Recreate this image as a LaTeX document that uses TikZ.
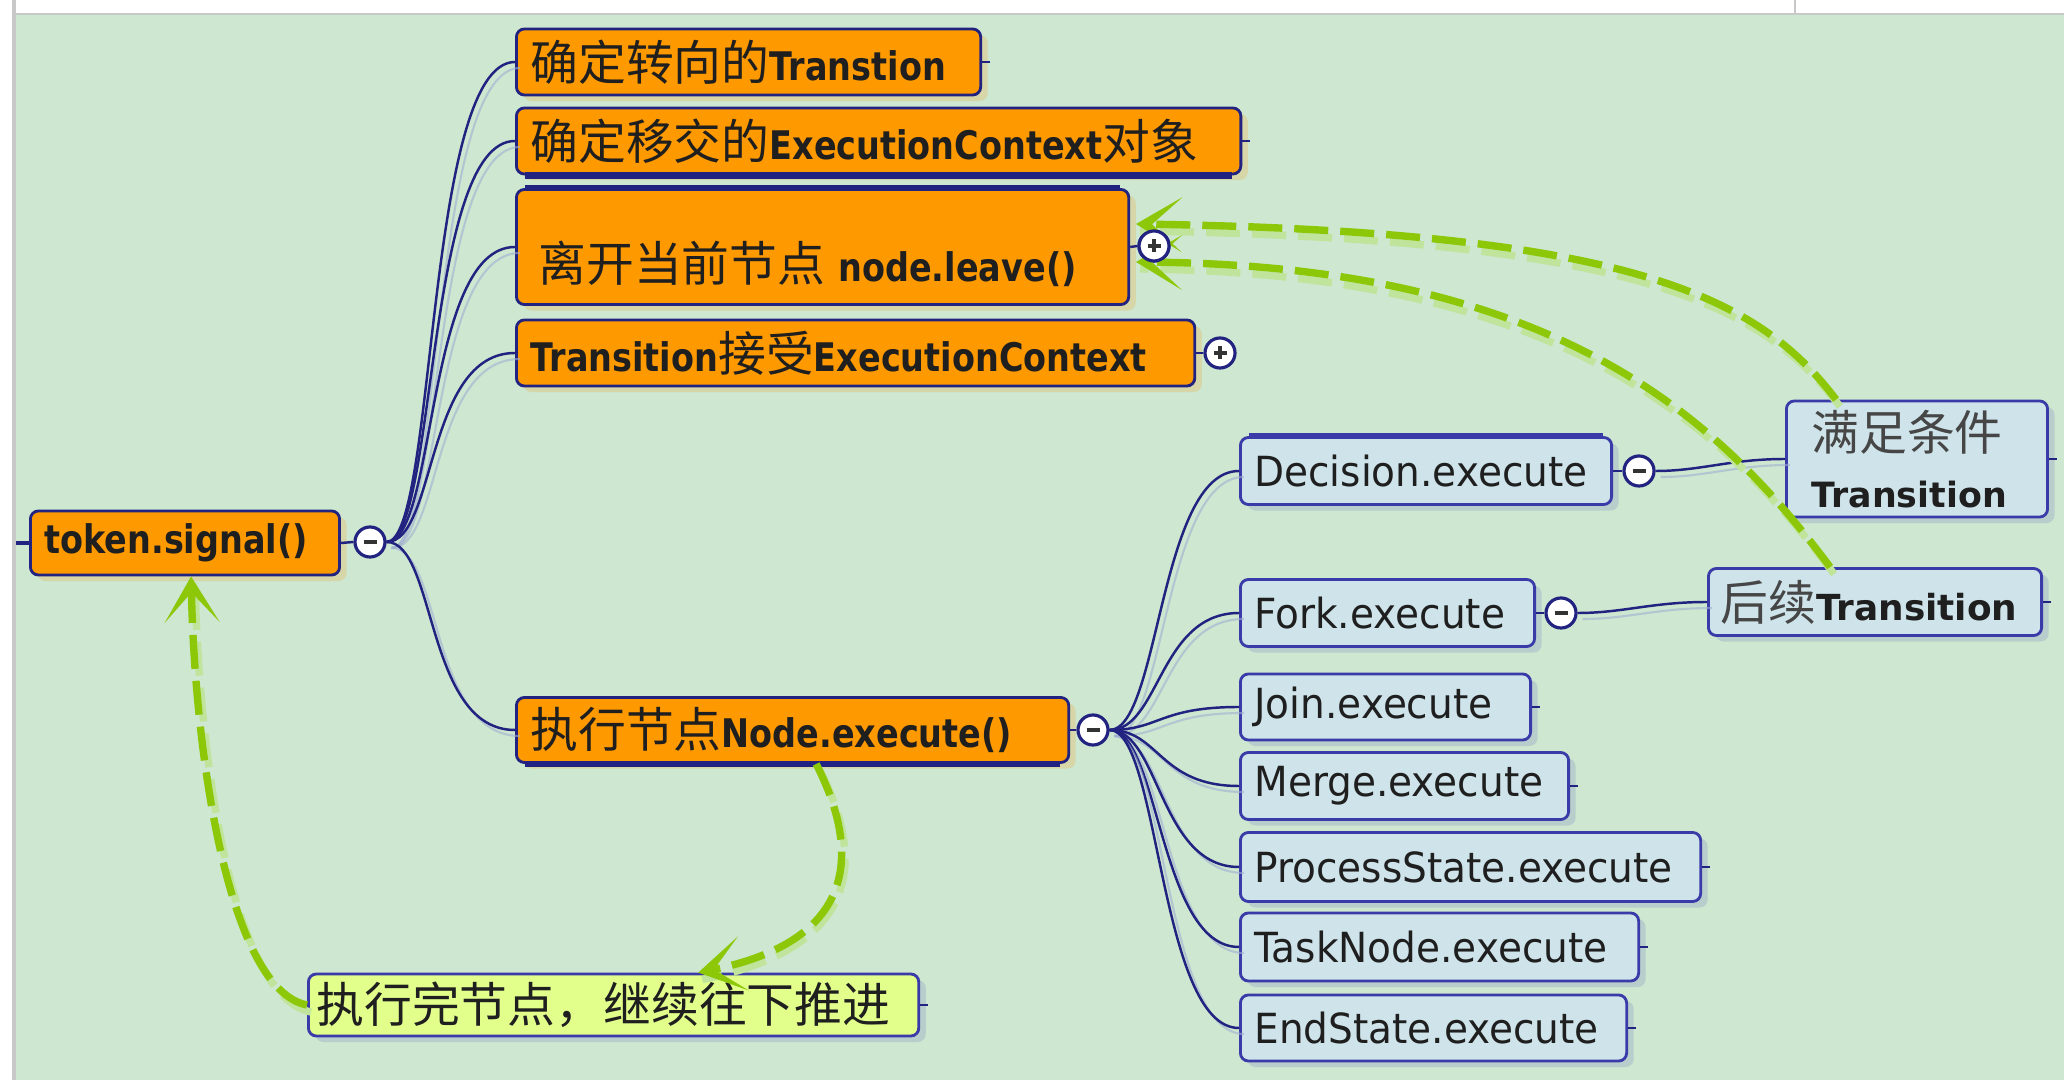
\documentclass[tikz,border=0pt]{standalone}
\usepackage{fontspec}
\setmainfont{DejaVu Sans}
\newfontfamily\condsans{DejaVu Sans}[FakeStretch=0.85]
\newfontfamily\narrowsans{DejaVu Sans}[FakeStretch=0.94]
\newfontfamily\cjk{Noto Sans CJK SC}
\usetikzlibrary{arrows.meta,shadows}

\definecolor{bggreen}{RGB}{205,231,208}
\definecolor{framegray}{RGB}{200,200,200}
\definecolor{navy}{RGB}{34,34,128}
\definecolor{orangefill}{RGB}{255,153,0}
\definecolor{orangeshadow}{RGB}{214,214,168}
\definecolor{bluefill}{RGB}{206,228,234}
\definecolor{blueline}{RGB}{58,58,168}
\definecolor{blueshadow}{RGB}{184,206,204}
\definecolor{yellowfill}{RGB}{226,255,140}
\definecolor{linkgreen}{RGB}{140,200,8}
\definecolor{linkgreenlight}{RGB}{192,228,156}
\definecolor{wireshadow}{RGB}{160,176,210}
\definecolor{zhgray}{RGB}{70,70,70}

% Chinese glyphs are set larger than the Latin text
\newcommand\zh[1]{{\cjk\mdseries\fontsize{13.6pt}{16pt}\selectfont #1}}
\newcommand\zhg[1]{{\cjk\mdseries\color{zhgray}\fontsize{13.6pt}{16pt}\selectfont #1}}

\begin{document}
\begin{tikzpicture}[x=0.01cm,y=-0.01cm,
  topic/.style={rounded corners=0.08cm, line width=0.8pt, anchor=west,
    align=left, inner xsep=0.14cm, inner ysep=0pt, text=black!88},
  orangebox/.style={topic, draw=navy, fill=orangefill,
    font=\condsans\bfseries\fontsize{11.2pt}{13pt}\selectfont,
    drop shadow={shadow xshift=0.07cm, shadow yshift=-0.06cm, fill=orangeshadow, opacity=1}},
  bluebox/.style={topic, draw=blueline, fill=bluefill,
    font=\narrowsans\fontsize{11.8pt}{14pt}\selectfont,
    drop shadow={shadow xshift=0.07cm, shadow yshift=-0.06cm, fill=blueshadow, opacity=1}},
  yellowbox/.style={topic, draw=blueline, fill=yellowfill, inner xsep=0.08cm,
    drop shadow={shadow xshift=0.07cm, shadow yshift=-0.06cm, fill=blueshadow, opacity=1}},
  expander/.style={circle, draw=navy, fill=white, line width=0.9pt,
    minimum size=0.30cm, inner sep=0pt},
  minusbtn/.style={expander, path picture={
    \draw[line width=1.4pt, black!80]
      ([xshift=-0.065cm]path picture bounding box.center) --
      ([xshift=0.065cm]path picture bounding box.center);}},
  plusbtn/.style={expander, path picture={
    \draw[line width=1.4pt, black!80]
      ([xshift=-0.065cm]path picture bounding box.center) --
      ([xshift=0.065cm]path picture bounding box.center)
      ([yshift=-0.065cm]path picture bounding box.center) --
      ([yshift=0.065cm]path picture bounding box.center);}},
  wire/.style={draw=navy, line width=0.7pt},
  wireshade/.style={draw=wireshadow, line width=0.6pt, opacity=0.6,
    transform canvas={shift={(5,6)}}},
  flow/.style={draw=linkgreen, line width=2.1pt, dash pattern=on 0.34cm off 0.12cm,
    -{Stealth[length=0.46cm, width=0.55cm, inset=0.3cm]}},
  flowshade/.style={draw=linkgreenlight, line width=2.1pt,
    dash pattern=on 0.34cm off 0.12cm, transform canvas={shift={(4,7)}}}
]
\useasboundingbox (0,0) rectangle (2064,1080);

% page and canvas
\fill[white] (0,0) rectangle (2064,1080);
\fill[bggreen] (16,15) rectangle (2064,1080);
\draw[framegray, line width=1.2pt] (14,0) -- (14,1080);
\draw[framegray, line width=0.8pt] (16,14) -- (2064,14);
\draw[framegray, line width=0.8pt] (1795,0) -- (1795,14);

% root and main steps
\node[orangebox, text width=2.81cm, minimum height=0.64cm] (sig) at (29,543) {token.signal()};
\node[orangebox, text width=4.36cm, minimum height=0.66cm] (o1) at (515,62) {\zh{确定转向的}Transtion};
\node[orangebox, text width=6.96cm, minimum height=0.66cm] (o2) at (515,141) {\zh{确定移交的}ExecutionContext\zh{对象}};
\node[orangebox, text width=5.84cm, text height=0.92cm, text depth=0.23cm] (o3) at (515,247) {\zh{\,离开当前节点} node.leave()};
\node[orangebox, text width=6.50cm, minimum height=0.66cm] (o4) at (515,353) {Transition\zh{接受}ExecutionContext};
\node[orangebox, text width=5.24cm, minimum height=0.65cm] (o5) at (515,730) {\zh{执行节点}Node.execute()};

% node kinds
\node[bluebox, text width=3.43cm, minimum height=0.67cm] (d) at (1239,471) {Decision.execute};
\node[bluebox, text width=2.66cm, minimum height=0.67cm] (f) at (1239,613) {Fork.execute};
\node[bluebox, text width=2.62cm, minimum height=0.66cm] (j) at (1239,707) {Join.execute};
\node[bluebox, text width=3.00cm, minimum height=0.67cm] (m) at (1239,786) {Merge.execute};
\node[bluebox, text width=4.32cm, minimum height=0.69cm] (p) at (1239,867) {ProcessState.execute};
\node[bluebox, text width=3.70cm, minimum height=0.68cm] (t) at (1239,947) {TaskNode.execute};
\node[bluebox, text width=3.58cm, minimum height=0.66cm] (e) at (1239,1028) {EndState.execute};

% transitions
\node[bluebox, inner xsep=0.25cm, text width=2.11cm, minimum height=1.16cm,
  font=\fontsize{9.9pt}{16pt}\selectfont] (cond) at (1785,459) {\zhg{满足条件}\\\textbf{Transition}};
\node[bluebox, inner xsep=0.12cm, text width=3.09cm, minimum height=0.67cm,
  font=\fontsize{10.2pt}{13pt}\selectfont] (next) at (1707,602) {\zhg{后续}\textbf{Transition}};

% result
\node[yellowbox, text width=5.94cm, minimum height=0.62cm] (done) at (307,1005) {\zh{执行完节点，继续往下推进}};

% heavier edges on some boxes
\draw[navy, line width=1.8pt] ([xshift=0.1cm]o2.south west) -- ([xshift=-0.1cm]o2.south east);
\draw[navy, line width=1.8pt] ([xshift=0.1cm]o3.north west) -- ([xshift=-0.1cm]o3.north east);
\draw[navy, line width=1.8pt] ([xshift=0.1cm]o5.south west) -- ([xshift=-0.1cm]o5.south east);
\draw[blueline, line width=1.6pt] ([xshift=0.1cm]d.north west) -- ([xshift=-0.1cm]d.north east);

% expanders
\node[minusbtn] (csig) at (370,542) {};
\node[plusbtn]  (co3)  at (1154,246) {};
\node[plusbtn]  (co4)  at (1220,353) {};
\node[minusbtn] (co5)  at (1093,730) {};
\node[minusbtn] (cd)   at (1639,471) {};
\node[minusbtn] (cf)   at (1561,613) {};

% stubs between boxes and expanders
\coordinate (entry) at (16,543);
\draw[wire, line width=1.4pt] (entry) -- (sig.west);
\draw[wire] (sig.east) -- (csig.west);
\draw[wire] (o3.east) -- (co3.west);
\draw[wire] (o4.east) -- (co4.west);
\draw[wire] (o5.east) -- (co5.west);
\draw[wire] (d.east) -- (cd.west);
\draw[wire] (f.east) -- (cf.west);
\foreach \n in {o1,o2,done,j,m,p,t,e,cond,next}
  \draw[wire] (\n.east) -- ++(8,0);

% branches with their faint shadows
\foreach \n in {o1,o2,o3,o4,o5} {
  \draw[wireshade] (csig.east) .. controls +(50,0) and +(-90,0) .. (\n.west);
  \draw[wire] (csig.east) .. controls +(50,0) and +(-90,0) .. (\n.west);
}
\foreach \n in {d,f,j,m,p,t,e} {
  \draw[wireshade] (co5.east) .. controls +(50,0) and +(-80,0) .. (\n.west);
  \draw[wire] (co5.east) .. controls +(50,0) and +(-80,0) .. (\n.west);
}
\draw[wireshade] (cd.east) .. controls +(45,0) and +(-55,0) .. (cond.west);
\draw[wire] (cd.east) .. controls +(45,0) and +(-55,0) .. (cond.west);
\draw[wireshade] (cf.east) .. controls +(45,0) and +(-55,0) .. (next.west);
\draw[wire] (cf.east) .. controls +(45,0) and +(-55,0) .. (next.west);

% flow of control
\coordinate (leaveA) at (1136,224);
\coordinate (leaveB) at (1136,262);
\draw[flowshade] ([xshift=0.51cm]cond.north west) .. controls (1760,300) and (1640,232) .. (leaveA);
\draw[flowshade] ([xshift=1.23cm]next.north west) .. controls (1720,420) and (1560,266) .. (leaveB);
\draw[flowshade] ([xshift=3.01cm]o5.south west) .. controls (860,850) and (860,940) .. ([xshift=3.91cm]done.north west);
\draw[flowshade] (done.west) .. controls (230,990) and (195,760) .. ([xshift=1.62cm]sig.south west);

\draw[flow] ([xshift=0.51cm]cond.north west) .. controls (1760,300) and (1640,232) .. (leaveA);
\draw[flow] ([xshift=1.23cm]next.north west) .. controls (1720,420) and (1560,266) .. (leaveB);
\draw[flow] ([xshift=3.01cm]o5.south west) .. controls (860,850) and (860,940) .. ([xshift=3.91cm]done.north west);
\draw[flow] (done.west) .. controls (230,990) and (195,760) .. ([xshift=1.62cm]sig.south west);

% the expander of the leave step sits above the arrow ends
\node[plusbtn] (co3top) at (co3) {};
\end{tikzpicture}
\end{document}
